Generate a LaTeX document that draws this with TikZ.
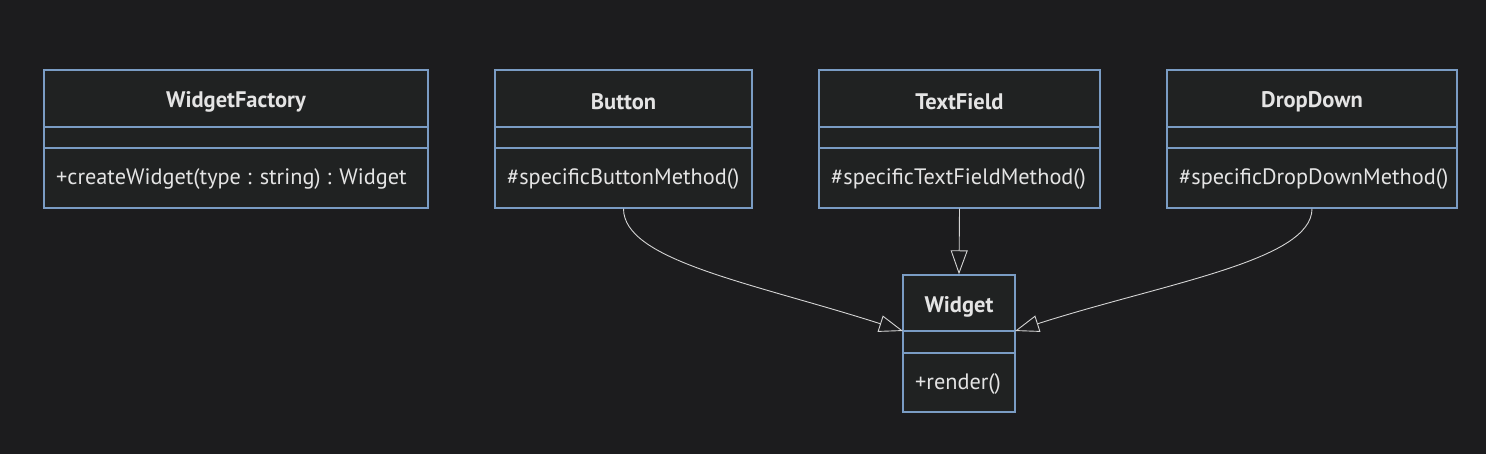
\documentclass[tikz,border=0pt]{standalone}
\usepackage{fontspec}
\setmainfont{PT Sans}
\usetikzlibrary{positioning, calc}
\usetikzlibrary{arrows.meta}

\definecolor{bgdark}{RGB}{28,28,30}
\definecolor{classfill}{RGB}{32,34,34}
\definecolor{classborder}{RGB}{122,156,196}
\definecolor{classtext}{RGB}{228,228,228}
\definecolor{linkgray}{RGB}{212,212,212}

\tikzset{
  classbox/.style={draw=classborder, fill=classfill, line width=1.3pt, inner sep=0pt},
  classtitle/.style={text=classtext, font=\fontsize{22.5pt}{26pt}\selectfont\bfseries},
  classmember/.style={text=classtext, anchor=west, inner sep=0pt, font=\fontsize{22.3pt}{26pt}\selectfont},
  realize/.style={draw=linkgray, line width=0.9pt, -{Triangle[open, length=24pt, width=17pt]}},
}

\begin{document}
\begin{tikzpicture}[x=1pt,y=1pt]

% --- sfondo
\fill[bgdark] (0,0) rectangle (1486,454);
\useasboundingbox (0,0) rectangle (1486,454);

% ================== Classi in alto ==================
\foreach \nm/\xl/\xr/\ti/\me in {
    fac/44/428/WidgetFactory/{+createWidget(type : string) : Widget},
    btn/495/752/Button/{\#specificButtonMethod()},
    tf/819/1100/TextField/{\#specificTextFieldMethod()},
    dd/1167/1457/DropDown/{\#specificDropDownMethod()}}{
  \pgfmathsetmacro{\w}{\xr-\xl}
  \node[classbox, minimum width=\w pt, minimum height=138pt] (\nm) at ({(\xl+\xr)/2},315) {};
  \coordinate (\nm-hl) at (\xl,327);
  \coordinate (\nm-hr) at (\xr,327);
  \coordinate (\nm-sl) at (\xl,306);
  \coordinate (\nm-sr) at (\xr,306);
  \draw[classborder, line width=1.3pt] (\nm-hl) -- (\nm-hr);
  \draw[classborder, line width=1.3pt] (\nm-sl) -- (\nm-sr);
  \node[classtitle] (\nm-t) at ({(\xl+\xr)/2},352) {\ti};
  \node[classmember] (\nm-m) at (\xl+12,275) {\me};
}

% ================== Classe Widget ==================
\node[classbox, minimum width=112pt, minimum height=137pt] (w) at (959,110.5) {};
\coordinate (w-hl) at (903,123);
\coordinate (w-hr) at (1015,123);
\coordinate (w-sl) at (903,101);
\coordinate (w-sr) at (1015,101);
\draw[classborder, line width=1.3pt] (w-hl) -- (w-hr);
\draw[classborder, line width=1.3pt] (w-sl) -- (w-sr);
\node[classtitle] (w-t) at (959,147) {Widget};
\node[classmember] (w-m) at (915,70) {+render()};

% ================== Relazioni ==================
\draw[realize] (btn.south) .. controls +(0,-52) and +(-150,48) .. (w-hl);
\draw[realize] (tf.south) -- (w.north);
\draw[realize] (dd.south) .. controls +(0,-52) and +(150,48) .. (w-hr);

\end{tikzpicture}
\end{document}
